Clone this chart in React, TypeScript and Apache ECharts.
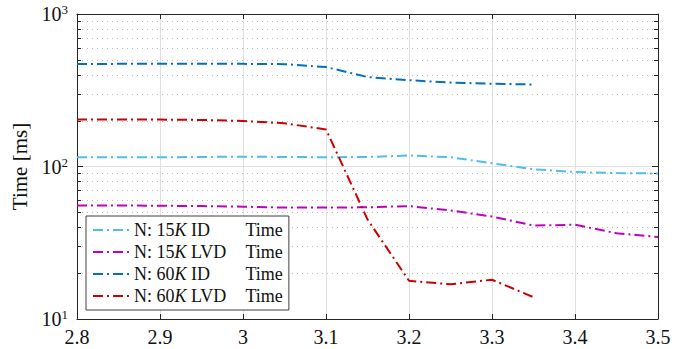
import React, { useEffect, useRef } from "react";
import * as echarts from "echarts";

const xValues = [2.8, 2.85, 2.9, 2.95, 3.0, 3.05, 3.1, 3.15, 3.2, 3.25, 3.3, 3.35, 3.4, 3.45, 3.5];
const seriesNames = ["N: 15K ID Time", "N: 15K LVD Time", "N: 60K ID Time", "N: 60K LVD Time"];
const id15 = [115, 115, 115, 115.5, 116, 115.5, 115, 115.5, 118, 115, 105, 96, 92, 90.5, 90];
const lvd15 = [55.5, 55.5, 55.3, 55, 54.5, 53.8, 53.8, 54, 55, 51.5, 47, 41, 41.5, 36.5, 34.5];
const id60 = [470, 471, 472, 472, 471, 469, 449, 386, 368, 355, 349, 345];
const lvd60 = [203, 203, 203, 202, 199, 192, 175, 45, 17.8, 16.9, 18.1, 13.9];
const seriesColors = ["#4DBEEE", "#BF00BF", "#0072BD", "#CC0000"];
const yTicks = [10, 100, 1000];
const minorTicks = [20, 30, 40, 50, 60, 70, 80, 90, 200, 300, 400, 500, 600, 700, 800, 900];

const FONT = "Liberation Serif";
const AXIS_COLOR = "#262626";
const TEXT_COLOR = "#111111";

export default function App() {
  const ref = useRef<HTMLDivElement>(null);
  useEffect(() => {
    if (!ref.current) return;
    const chart = echarts.init(ref.current, undefined, { renderer: "svg" });
    const allData = [id15, lvd15, id60, lvd60];
    const dash = [10, 4, 2, 4];
    const lineSeries = allData.map((arr, i) => ({
      name: seriesNames[i],
      type: "line",
      data: arr.map((v, j) => [xValues[j], v]),
      showSymbol: false,
      symbol: "none",
      color: seriesColors[i],
      lineStyle: { color: seriesColors[i], width: 2, type: dash },
      z: 3,
    }));
    const minorSeries = {
      type: "custom",
      silent: true,
      data: minorTicks.map((v) => [xValues[0], v]),
      encode: { x: 0, y: 1 },
      z: 1,
      renderItem: (params: any, api: any) => {
        const cs = params.coordSys;
        const y = Math.round(api.coord([xValues[0], api.value(1)])[1]) + 0.5;
        return {
          type: "group",
          children: [
            {
              type: "line",
              shape: { x1: cs.x, y1: y, x2: cs.x + cs.width, y2: y },
              style: { stroke: "#bdbdbd", lineWidth: 1, lineDash: [1, 4] },
            },
            {
              type: "line",
              shape: { x1: cs.x, y1: y, x2: cs.x + 4, y2: y },
              style: { stroke: AXIS_COLOR, lineWidth: 1 },
            },
            {
              type: "line",
              shape: { x1: cs.x + cs.width - 4, y1: y, x2: cs.x + cs.width, y2: y },
              style: { stroke: AXIS_COLOR, lineWidth: 1 },
            },
          ],
        };
      },
    };
    const option: any = {
      animation: false,
      backgroundColor: "#ffffff",
      grid: { left: 77, right: 34, top: 14, bottom: 30, containLabel: false },
      legend: {
        orient: "vertical",
        left: 86,
        top: 216,
        z: 10,
        data: seriesNames,
        backgroundColor: "#ffffff",
        borderColor: "#404040",
        borderWidth: 1,
        borderRadius: 0,
        padding: [3, 6, 3, 6],
        itemWidth: 36,
        itemHeight: 14,
        itemGap: 0,
        itemStyle: { opacity: 0 },
        textStyle: {
          fontFamily: FONT,
          fontSize: 18,
          lineHeight: 22,
          color: TEXT_COLOR,
          rich: {
            n: { fontFamily: FONT, fontSize: 18, lineHeight: 22, color: TEXT_COLOR },
            k: { fontFamily: FONT, fontSize: 18, lineHeight: 22, fontStyle: "italic", color: TEXT_COLOR },
            w: { fontFamily: FONT, fontSize: 18, lineHeight: 22, color: TEXT_COLOR, width: 59 },
          },
        },
        formatter: (name: string) => {
          const m = name.match(/^N: (\d+)K (\w+) Time$/);
          if (!m) return name;
          return `{n|N: ${m[1]}}{k|K}{w| ${m[2]}}{n|Time}`;
        },
      },
      xAxis: [
        {
          type: "value",
          min: 2.8,
          max: 3.5,
          interval: 0.1,
          position: "bottom",
          axisLine: { show: true, lineStyle: { color: AXIS_COLOR, width: 1 } },
          axisTick: { show: true, inside: true, length: 5, lineStyle: { color: AXIS_COLOR } },
          axisLabel: {
            fontFamily: FONT,
            fontSize: 20,
            color: TEXT_COLOR,
            margin: 8,
            formatter: (v: number) => String(Number(v.toFixed(2))),
          },
          splitLine: { show: true, lineStyle: { color: "#e0e0e0", width: 1 } },
        },
        {
          type: "value",
          min: 2.8,
          max: 3.5,
          interval: 0.1,
          position: "top",
          axisLine: { show: true, lineStyle: { color: AXIS_COLOR, width: 1 } },
          axisTick: { show: true, inside: true, length: 5, lineStyle: { color: AXIS_COLOR } },
          axisLabel: { show: false },
          splitLine: { show: false },
        },
      ],
      yAxis: [
        {
          type: "log",
          logBase: 10,
          min: yTicks[0],
          max: yTicks[yTicks.length - 1],
          position: "left",
          name: "Time [ms]",
          nameLocation: "middle",
          nameGap: 40,
          nameTextStyle: { fontFamily: FONT, fontSize: 21, color: TEXT_COLOR },
          axisLine: { show: true, lineStyle: { color: AXIS_COLOR, width: 1 } },
          axisTick: { show: true, inside: true, length: 6, lineStyle: { color: AXIS_COLOR } },
          axisLabel: {
            margin: 9,
            formatter: (v: number) => `{b|10}{s|${Math.round(Math.log10(v))}}`,
            rich: {
              b: { fontFamily: FONT, fontSize: 20, lineHeight: 22, color: TEXT_COLOR },
              s: { fontFamily: FONT, fontSize: 13, lineHeight: 13, color: TEXT_COLOR, verticalAlign: "top" },
            },
          },
          splitLine: { show: true, lineStyle: { color: "#e0e0e0", width: 1 } },
        },
        {
          type: "log",
          logBase: 10,
          min: yTicks[0],
          max: yTicks[yTicks.length - 1],
          position: "right",
          axisLine: { show: true, lineStyle: { color: AXIS_COLOR, width: 1 } },
          axisTick: { show: true, inside: true, length: 6, lineStyle: { color: AXIS_COLOR } },
          axisLabel: { show: false },
          splitLine: { show: false },
        },
      ],
      series: [minorSeries, ...lineSeries],
    };
    chart.setOption(option);
    return () => chart.dispose();
  }, []);
  return <div ref={ref} style={{ width: 692, height: 349, position: "absolute", left: 0, top: 0 }} />;
}
